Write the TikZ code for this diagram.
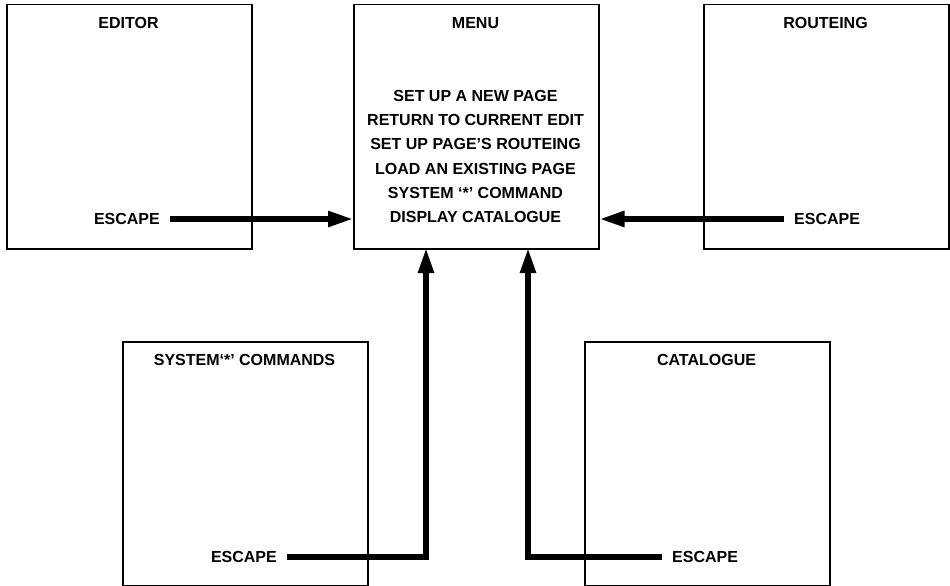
\documentclass[tikz,border=0pt]{standalone}
\usepackage{fontspec}
\setmainfont{Liberation Sans}
\usetikzlibrary{arrows.meta}
\begin{document}
\begin{tikzpicture}[x=1pt,y=-1pt,
  screen/.style={draw,line width=1.5pt,minimum width=245pt,minimum height=244pt,
    anchor=north west,inner sep=0pt},
  label/.style={font=\bfseries\fontsize{16}{19}\selectfont,inner sep=0pt},
  escl/.style={font=\bfseries\fontsize{16}{19}\selectfont,inner xsep=10pt,inner ysep=0pt},
  back/.style={line width=5.5pt,-{Triangle[length=25pt,width=15pt]}}]
\useasboundingbox (0,0) rectangle (950,586);
% the five screens
\node[screen] (editor) at (6,4) {};
\node[screen] (menu) at (353,4) {};
\node[screen] (routeing) at (703,4) {};
\node[screen] (system) at (122,341) {};
\node[screen] (catalogue) at (584,341) {};
% titles
\node[label,anchor=base] (edtitle) at (128.5,28.5) {EDITOR};
\node[label,anchor=base] (mntitle) at (475.5,28.5) {MENU};
\node[label,anchor=base] (rttitle) at (825.5,28.5) {ROUTEING};
\node[label,anchor=base] (systitle) at (244.5,365) {SYSTEM‘*’ COMMANDS};
\node[label,anchor=base] (cattitle) at (706.5,365) {CATALOGUE};
% menu entries
\foreach \txt [count=\i from 0] in {SET UP A NEW PAGE,RETURN TO CURRENT EDIT,
    SET UP PAGE’S ROUTEING,LOAD AN EXISTING PAGE,SYSTEM ‘*’ COMMAND,DISPLAY CATALOGUE}
  \node[label,anchor=base] (item\i) at (475.5,101.5+24.2*\i) {\txt};
% escape keys
\node[escl,anchor=east] (edesc) at (170,219) {ESCAPE};
\node[escl,anchor=west] (rtesc) at (784,219) {ESCAPE};
\node[escl,anchor=east] (sysesc) at (287,557) {ESCAPE};
\node[escl,anchor=west] (catesc) at (662,557) {ESCAPE};
\coordinate (sysin) at (426,248);
\coordinate (catin) at (528,248);
% back to the menu
\draw[back] (edesc.east) -- (edesc -| menu.west);
\draw[back] (rtesc.west) -- (rtesc -| menu.east);
\draw[back] (sysesc.east) -| (sysin);
\draw[back] (catesc.west) -| (catin);
\end{tikzpicture}
\end{document}
